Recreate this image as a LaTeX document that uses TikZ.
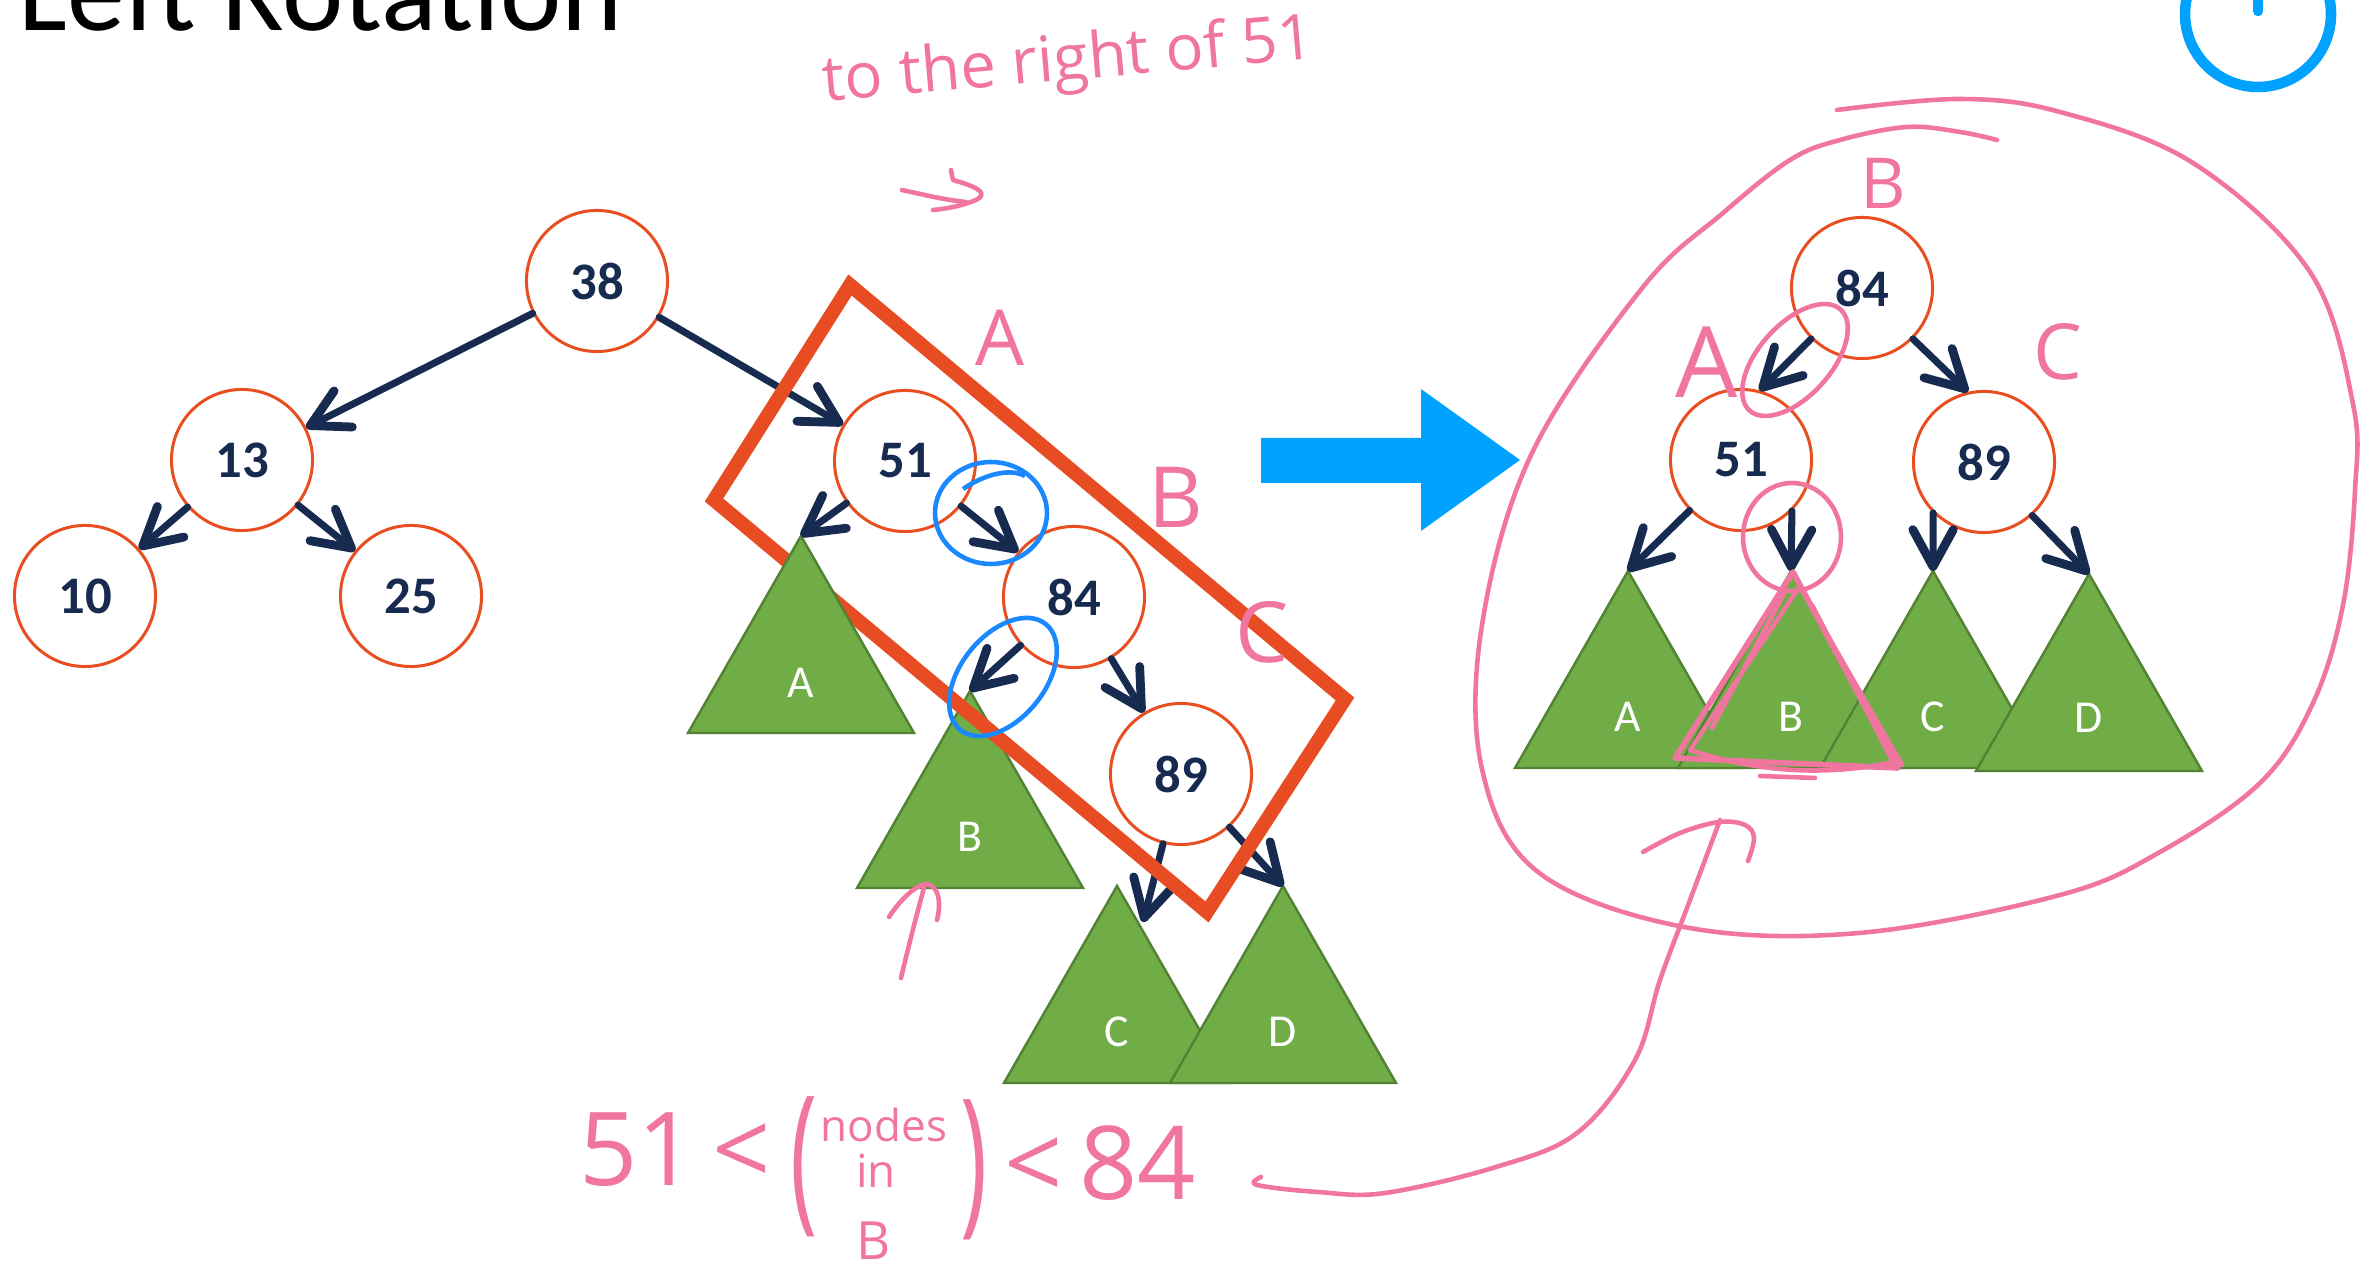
\documentclass[tikz,border=0pt]{standalone}
\usepackage{fontspec}
\usepackage{graphicx}
\setmainfont{Carlito}
\newfontfamily\handfont{Open Sans}
\usetikzlibrary{arrows.meta}
\definecolor{navy}{RGB}{23,43,80}
\definecolor{nodeor}{RGB}{233,78,32}
\definecolor{rectred}{RGB}{232,76,34}
\definecolor{trifill}{RGB}{112,173,71}
\definecolor{tridraw}{RGB}{84,130,53}
\definecolor{pinkink}{RGB}{240,118,160}
\definecolor{blueink}{RGB}{26,136,255}
\definecolor{blueblock}{RGB}{0,162,255}
\tikzset{
  numnode/.style={circle, draw=nodeor, line width=0.85pt, minimum size=1.41cm, inner sep=0pt, fill=white, text=navy, font=\bfseries\fontsize{15}{15}\selectfont},
  link/.style={draw=navy, line width=2pt, line cap=round, -{Straight Barb[length=10.5pt,width=11.5pt,line width=2.5pt,round]}},
  subtree/.style={draw=tridraw, fill=trifill, line width=0.7pt, line join=miter},
  trilabel/.style={text=white, font=\fontsize{13}{13}\selectfont, inner sep=0pt},
  ink/.style={draw=pinkink, line width=1.3pt, line cap=round, line join=round},
  inktext/.style={text=pinkink, inner sep=0pt},
  blueloop/.style={draw=blueink, line width=1.3pt},
}
\begin{document}
\begin{tikzpicture}[x=0.01cm, y=-0.01cm]
\useasboundingbox (0,0) rectangle (2366,1268);
\clip (0,0) rectangle (2366,1268);
\fill[white] (0,0) rectangle (2366,1268);

% title
\node[anchor=base west, inner sep=0pt, font=\fontsize{33}{33}\selectfont] (title) at (18,31) {Left Rotation};

% power icon
\draw[blueblock, line width=3pt] (2258,14) circle (73);
\draw[blueblock, line width=3pt, line cap=round] (2258,-20) -- (2258,11);

% ---------- left tree ----------
\node[numnode] (n38) at (597,281) {38};
\node[numnode] (n13) at (242,460) {13};
\node[numnode] (n10) at (85,596) {10};
\node[numnode] (n25) at (411,596) {25};
\node[numnode] (n51) at (905,461) {51};
\node[numnode] (n84) at (1074,597) {84};
\node[numnode] (n89) at (1181,774) {89};

\coordinate (aA) at (801,536);
\coordinate (aB) at (970,691);
\coordinate (aC) at (1117,886);
\coordinate (aD) at (1283,886);
\coordinate (cC) at (1143,922);

\draw[subtree] (aB) -- ++(113,197) -- ++(-226,0) -- cycle;
\node[trilabel] (lB) at (970,837) {B};
\draw[subtree] (aC) -- ++(113,197) -- ++(-226,0) -- cycle;
\node[trilabel] (lC) at (1117,1032) {C};
\draw[subtree] (aD) -- ++(113,197) -- ++(-226,0) -- cycle;
\node[trilabel] (lD) at (1283,1032) {D};

\draw[link] (n38) -- (n13);
\draw[link] (n13) -- (n10);
\draw[link] (n13) -- (n25);
\draw[link] (n38) -- (n51);
\draw[link] (n51) -- (n84);
\draw[link] (n84) -- (n89);
\draw[link] (n84) -- (aB);
\draw[link] (n89) -- (cC);
\draw[link] (n89) -- (aD);

% red selection rectangle
\draw[rectred, line width=4pt, line join=miter] (850,285) -- (1345,699) -- (1207,912) -- (714,500) -- cycle;

\draw[subtree] (aA) -- ++(113,197) -- ++(-226,0) -- cycle;
\node[trilabel] (lA) at (801,683) {A};
\draw[link] (n51) -- (aA);

% big blue arrow
\fill[blueblock] (1261,438) -- (1421,438) -- (1421,389) -- (1520,460) -- (1421,531) -- (1421,483) -- (1261,483) -- cycle;

% ---------- right tree ----------
\node[numnode] (r84) at (1862,288) {84};
\node[numnode] (r51) at (1741,460) {51};
\node[numnode] (r89) at (1984,462) {89};

\coordinate (rA) at (1628,571);
\coordinate (rB) at (1791,571);
\coordinate (rC) at (1933,571);
\coordinate (rD) at (2089,574);

\draw[subtree] (rA) -- ++(113,197) -- ++(-226,0) -- cycle;
\node[trilabel] (rlA) at (1628,717) {A};
\draw[subtree] (rB) -- ++(113,197) -- ++(-226,0) -- cycle;
\node[trilabel] (rlB) at (1791,717) {B};
\draw[subtree] (rC) -- ++(113,197) -- ++(-226,0) -- cycle;
\node[trilabel] (rlC) at (1933,717) {C};
\draw[subtree] (rD) -- ++(113,197) -- ++(-226,0) -- cycle;
\node[trilabel] (rlD) at (2089,718) {D};

\draw[link] (r84.225) -- (r51.75);
\draw[link] (r84.315) -- (r89.103);
\draw[link] (r51) -- (rA);
\draw[link] (r51.-45) -- (rB);
\draw[link] (r89.225) -- (rC);
\draw[link] (r89.-48) -- (rD);

% ---------- blue hand circles ----------
\draw[blueloop] (963,489) .. controls (985,474) and (1010,468) .. (1025,476);
\draw[blueloop] (991,513) ellipse [x radius=56, y radius=51];
\draw[blueloop, rotate around={51:(1003,677)}] (1003,677) ellipse [x radius=68, y radius=42];

% ---------- pink handwriting ----------
\node[inktext, anchor=base, rotate=5, font=\handfont\fontsize{18}{18}\selectfont] (note1) at (1070,80) {to the right of 51};
\draw[ink] (902,190) .. controls (925,195) and (945,200) .. (966,202);
\draw[ink] (951,170) -- (953,180) .. controls (970,185) and (992,192) .. (976,200) .. controls (962,206) and (945,209) .. (933,210);

\node[inktext, font=\handfont\fontsize{22}{22}\selectfont] (hA) at (1000,338) {A};
\node[inktext, font=\handfont\fontsize{24}{24}\selectfont] (hB) at (1176,497) {B};
\node[inktext, font=\handfont\fontsize{24}{24}\selectfont] (hC) at (1262,632) {C};

\draw[ink] (901,978) .. controls (910,940) and (918,910) .. (925,884);
\draw[ink] (889,917) .. controls (900,900) and (915,886) .. (925,884) .. controls (940,884) and (941,905) .. (937,920);

% formula
\node[inktext, anchor=base, font=\handfont\fontsize{29}{29}\selectfont] (f1) at (675,1186) {51\,<};
\node[inktext, font=\handfont\fontsize{26}{26}\selectfont] (fpl) at (804,1167) {\scalebox{1}[1.76]{(}};
\node[inktext, anchor=base, font=\handfont\fontsize{12.5}{12.5}\selectfont] (fnodes) at (884,1142) {nodes};
\node[inktext, anchor=base, font=\handfont\fontsize{13}{13}\selectfont] (fin) at (876,1188) {in};
\node[inktext, anchor=base, font=\handfont\fontsize{15}{15}\selectfont] (fB) at (874,1260) {B};
\node[inktext, font=\handfont\fontsize{26}{26}\selectfont] (fpr) at (974,1170) {\scalebox{1}[1.76]{)}};
\node[inktext, anchor=base, font=\handfont\fontsize{29}{29}\selectfont] (f2) at (1100,1200) {<\,84};

% connection from formula to the rotated tree
\draw[ink] plot[smooth, tension=0.6] coordinates {(1261,1177) (1257,1185) (1318,1192) (1385,1193) (1496,1167) (1577,1133) (1635,1060) (1660,980) (1690,900) (1720,820)};
\draw[ink] plot[smooth, tension=0.6] coordinates {(1643,852) (1680,833) (1719,822) (1745,825) (1754,838) (1748,861)};

% big loop around the rotated tree
\draw[ink] plot[smooth, tension=0.6] coordinates {(1837,110) (1960,99) (2060,112) (2193,163) (2310,272) (2353,404) (2355,490) (2343,605) (2313,703) (2260,783) (2160,852) (2060,895) (1859,933) (1684,927) (1538,872) (1482,769) (1482,625) (1532,453) (1643,287) (1723,213) (1790,160) (1840,140) (1907,127) (1960,132) (1997,140)};

\node[inktext, font=\handfont\fontsize{20}{20}\selectfont] (rhB) at (1883,183) {B};
\node[inktext, font=\handfont\fontsize{28}{28}\selectfont] (rhA) at (1707,362) {A};
\node[inktext, font=\handfont\fontsize{22}{22}\selectfont] (rhC) at (2058,352) {C};

\draw[ink, rotate around={48:(1795,360)}] (1795,360) ellipse [x radius=68, y radius=36];
\draw[ink] (1792,537) ellipse [x radius=49, y radius=54];

% scribbled triangle over B
\draw[ink, line width=1.6pt] (1793,572) -- (1675,758) -- (1898,768) -- cycle;
\draw[ink] (1800,586) -- (1690,750) .. controls (1750,770) and (1820,778) .. (1893,762) -- (1812,605);
\draw[ink] (1786,590) -- (1712,728);
\draw[ink] (1760,776) -- (1815,778);
\draw[ink] (1805,596) -- (1902,765);
\end{tikzpicture}
\end{document}
